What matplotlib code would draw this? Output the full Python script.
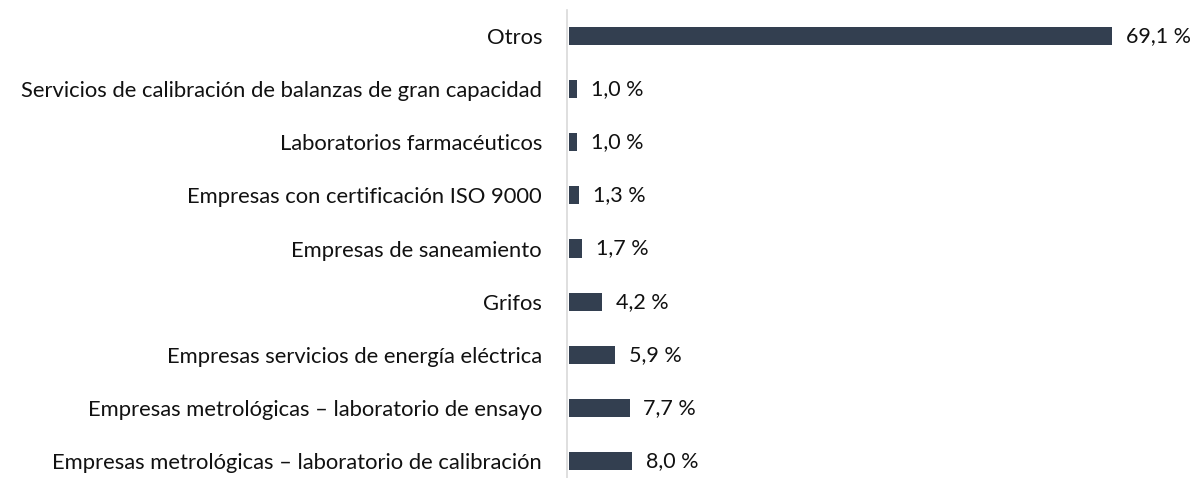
import matplotlib
matplotlib.use("Agg")
import matplotlib.pyplot as plt

categorias = [
    "Empresas metrológicas – laboratorio de calibración",
    "Empresas metrológicas – laboratorio de ensayo",
    "Empresas servicios de energía eléctrica",
    "Grifos",
    "Empresas de saneamiento",
    "Empresas con certificación ISO 9000",
    "Laboratorios farmacéuticos",
    "Servicios de calibración de balanzas de gran capacidad",
    "Otros",
]
valores = [8.0, 7.7, 5.9, 4.2, 1.7, 1.3, 1.0, 1.0, 69.1]
etiquetas = ["8,0 %", "7,7 %", "5,9 %", "4,2 %", "1,7 %", "1,3 %", "1,0 %", "1,0 %", "69,1 %"]

plt.rcParams["font.family"] = ["Lato", "DejaVu Sans"]

fig = plt.figure(figsize=(11.98, 4.78), dpi=100)
ax = fig.add_axes([567 / 1198, 0, (1196 - 567) / 1198, (478 - 10) / 478])

y = list(range(len(categorias)))
ax.barh(y, valores, height=0.34, color="#333F50", left=0.25)

for yi, v, t in zip(y, valores, etiquetas):
    ax.annotate(t, (v + 0.25, yi), xytext=(10, 0), textcoords="offset points",
                va="center", ha="left", fontsize=15.5, color="#111111")

ax.set_xlim(0, 80)
ax.set_ylim(-0.32, 8.49)
ax.set_yticks(y)
ax.set_yticklabels(categorias, fontsize=15.8, color="#111111")
ax.tick_params(axis="y", length=0, pad=18)
ax.set_xticks([])

for s in ["top", "right", "bottom"]:
    ax.spines[s].set_visible(False)
ax.spines["left"].set_color("#D9D9D9")
ax.spines["left"].set_linewidth(1.2)

fig.savefig("out.png", dpi=100)
